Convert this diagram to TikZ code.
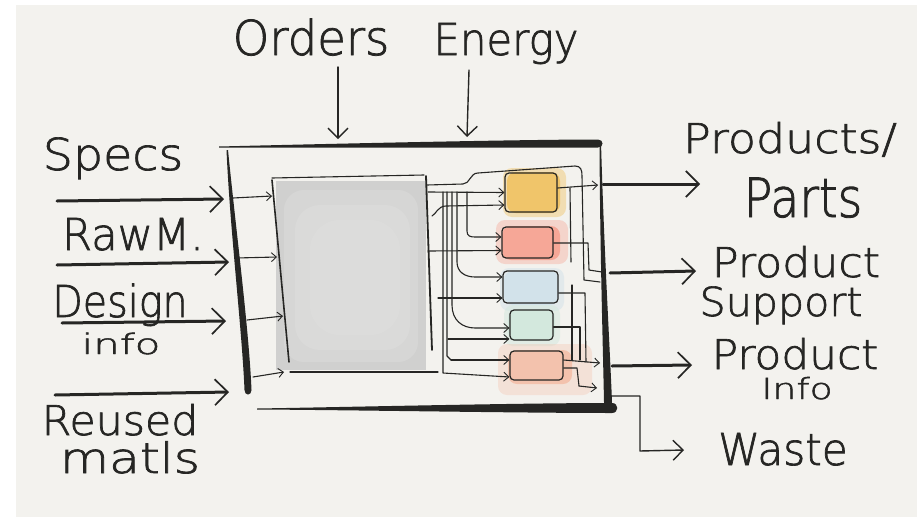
\documentclass[tikz,border=0pt]{standalone}
\usepackage{fontspec}
\newfontfamily\handfont[FakeBold=1.6]{DejaVu Sans ExtraLight}
\usetikzlibrary{arrows.meta}

\definecolor{paper}{HTML}{F3F2EE}
\definecolor{inkc}{HTML}{262624}
\definecolor{coreg}{HTML}{D0D0CF}
\definecolor{coregl}{HTML}{E2E2E1}
\definecolor{cyel}{HTML}{F0C56A}
\definecolor{cred}{HTML}{F6A797}
\definecolor{cblu}{HTML}{D2E2EA}
\definecolor{cgrn}{HTML}{D3E8DD}
\definecolor{cpch}{HTML}{F3C2AD}

% handwritten-style label: size, horizontal stretch, text
\newcommand\handtxt[3]{\scalebox{#2}[1]{\fontsize{#1}{#1}\selectfont\handfont #3}}

\tikzset{
  bigtip/.tip={Straight Barb[length=13pt,width=26pt,line width=1.7pt]},
  midtip/.tip={Straight Barb[length=10pt,width=20pt,line width=1.4pt]},
  smalltip/.tip={Straight Barb[length=5pt,width=9pt,line width=0.9pt]},
  lbl/.style={inner sep=0pt, text=inkc, anchor=base},
  heavy/.style={draw=inkc, line width=3pt, line cap=round, -{bigtip}},
  feed/.style={draw=inkc, line width=1.4pt, line cap=round, line join=round, -{midtip}},
  wire/.style={draw=inkc, line width=1.1pt, line cap=round, line join=round},
  wirearr/.style={wire, -{smalltip}},
  cbox/.style={draw=inkc, line width=1.2pt, rounded corners=4pt, inner sep=0pt},
  blob/.style={rounded corners=9pt},
}

\begin{document}
\begin{tikzpicture}[x=1pt,y=-1pt]
% page and paper
\fill[white] (0,0) rectangle (919,517);
\fill[paper] (16,5) rectangle (917,517);
\useasboundingbox (0,0) rectangle (919,517);

% ---------- labels ----------
\node[lbl] (orders)  at (311,55)  {\handtxt{48}{0.97}{Orders}};
\node[lbl] (energy)  at (506,55)  {\handtxt{44}{0.95}{Energy}};
\node[lbl] (specs)   at (113,170) {\handtxt{44}{1.08}{Specs}};
\node[lbl] (rawm)    at (133,250) {\handtxt{44}{0.98}{RawM.}};
\node[lbl] (design)  at (120,317) {\handtxt{44}{0.9}{Design}};
\node[lbl] (info)    at (121,354) {\handtxt{28}{1.5}{info}};
\node[lbl] (reused)  at (120,435) {\handtxt{41}{1.04}{Reused}};
\node[lbl] (matls)   at (130,473) {\handtxt{42}{1.2}{matls}};
\node[lbl] (prods)   at (790,153) {\handtxt{41}{1.12}{Products/}};
\node[lbl] (parts)   at (803,217) {\handtxt{54}{0.88}{Parts}};
\node[lbl] (prodA)   at (796,277) {\handtxt{41}{1.08}{Product}};
\node[lbl] (support) at (781,316) {\handtxt{40}{1.03}{Support}};
\node[lbl] (prodB)   at (795,369) {\handtxt{41}{1.07}{Product}};
\node[lbl] (infoB)   at (797,399) {\handtxt{29}{1.3}{Info}};
\node[lbl] (waste)   at (783,465) {\handtxt{44}{0.96}{Waste}};

% ---------- frame of the process (brush strokes) ----------
\fill[inkc] (219,146.5) .. controls (320,144) and (520,139.5) .. (598,139.5)
  .. controls (604,139.5) and (604,147.5) .. (598,147.5)
  .. controls (520,147.5) and (320,148) .. (219,147.5) -- cycle;
\fill[inkc] (257,408.5) .. controls (350,407) and (520,403) .. (612,403)
  .. controls (619,403) and (619,413) .. (612,413)
  .. controls (520,413) and (350,410) .. (257,409.5) -- cycle;
\fill[inkc] (226.5,150) .. controls (230,230) and (242,330) .. (244.5,390)
  .. controls (244.5,396) and (251.5,396) .. (251.5,390)
  .. controls (249,330) and (236,230) .. (228,150) -- cycle;
\fill[inkc] (599.5,142) .. controls (600,250) and (603,350) .. (604,402)
  .. controls (604,409) and (612,409) .. (612,402)
  .. controls (610,350) and (604,250) .. (601,142) -- cycle;

% ---------- core activity (grey wash) ----------
\fill[coreg] (276,181) rectangle (426,370);
\fill[coregl, opacity=.35, rounded corners=20pt] (284,190) rectangle (418,362);
\fill[coregl, opacity=.35, rounded corners=25pt] (295,205) rectangle (410,350);
\fill[coregl, opacity=.35, rounded corners=30pt] (310,220) rectangle (400,335);
\node[inner sep=0pt, minimum width=150pt, minimum height=190pt] (core) at (351,275) {};
\draw[wire] (272,178) -- (424,175);
\draw[wire, line width=1.6pt] (272,180) -- (289,362);
\draw[wire] (290,372) -- (438,372);
\draw[wire, line width=1.8pt] (426,176) -- (432,350);

% ---------- coloured sub-activities ----------
\fill[cyel, opacity=.45, blob] (503,168) rectangle (566,217);
\fill[cyel, blob] (507,172) rectangle (560,213);
\fill[cred, opacity=.4, blob] (496,220) rectangle (568,264);
\fill[cred, blob] (502,226) rectangle (560,260);
\fill[cblu, opacity=.5, blob] (500,268) rectangle (564,311);
\fill[cblu, blob] (504,271) rectangle (559,305);
\fill[cgrn, opacity=.5, blob] (504,305) rectangle (560,346);
\fill[cgrn, blob] (508,309) rectangle (555,341);
\fill[cpch, opacity=.35, blob] (498,344) rectangle (592,395);
\fill[cpch, blob] (508,350) rectangle (572,384);

\node[cbox, minimum width=52pt, minimum height=39pt] (ybox) at (531,192.5) {};
\node[cbox, minimum width=51pt, minimum height=31pt] (rbox) at (527.5,242.5) {};
\node[cbox, minimum width=55pt, minimum height=32pt] (bbox) at (530.5,287) {};
\node[cbox, minimum width=43pt, minimum height=30pt] (gbox) at (531.5,325) {};
\node[cbox, minimum width=53pt, minimum height=29pt] (pbox) at (536.5,365.5) {};

% ---------- inputs ----------
\coordinate (inS) at (57,201);   \coordinate (atS) at (224,199);
\coordinate (inR) at (57,265);   \coordinate (atR) at (229,262);
\coordinate (inD) at (62,323);   \coordinate (atD) at (226,321);
\coordinate (inU) at (55,395);   \coordinate (atU) at (229,392);
\draw[heavy] (inS) -- (atS);
\draw[heavy] (inR) -- (atR);
\draw[heavy] (inD) -- (atD);
\draw[heavy] (inU) -- (atU);

% controls from above
\coordinate (ordT) at (338,67);  \coordinate (ordB) at (338,139);
\coordinate (engT) at (469,70);  \coordinate (engB) at (467,137);
\draw[feed] (ordT) -- (ordB);
\draw[feed] (engT) -- (engB);

% inputs passed on to the core
\draw[wirearr] (233,198) -- (272,196);
\draw[wirearr] (236,258) -- (277,257);
\draw[wirearr] (247,320) -- (283,316);
\draw[wirearr] (253,377) -- (284,372);

% ---------- core to sub-activities ----------
\draw[wire] (427,185) -- (463,184) .. controls (470,184) and (470,173) .. (478,173)
  -- (575,166) .. controls (581,166) and (582,170) .. (582,176) -- (584,280) -- (600,282);
\draw[wirearr] (428,192) -- ([yshift=0pt]ybox.west);
\draw[wirearr] (432,216) .. controls (436,214) and (438,206) .. (446,206) -- ([yshift=-12.5pt]ybox.west);
\draw[wirearr] (467,192) -- (467,231) .. controls (467,236) and (470,237) .. (475,237) -- ([yshift=5.5pt]rbox.west);
\draw[wirearr] (428,251) -- ([yshift=-8pt]rbox.west);
\draw[wirearr] (457,192) -- (457,262) .. controls (457,272) and (465,277) .. (475,277) -- ([yshift=10pt]bbox.west);
\draw[wirearr] (438,298) -- ([yshift=-11pt]bbox.west);
\draw[wirearr] (452,192) -- (452,305) .. controls (452,320) and (462,328) .. (475,328) -- ([yshift=-3pt]gbox.west);
\draw[wirearr] (448,339) -- ([yshift=-14pt]gbox.west);
\draw[wire] (447,192) -- (447,356) -- (451,360);
\draw[wirearr] (451,360) -- ([yshift=5.5pt]pbox.west);
\draw[wirearr] (443,192) -- (443,373) -- ([yshift=-11.5pt]pbox.west);

% ---------- sub-activities to outputs ----------
\draw[wirearr] ([yshift=4.5pt]ybox.east) -- (598,185);
\draw[wire] (570,188) -- (571,262);
\draw[wire] ([yshift=-0.5pt]rbox.east) -- (588,243) -- (589,270) -- (602,272);
\draw[wire] ([yshift=-6pt]bbox.east) -- (585,293) -- (586,362);
\draw[wire] ([yshift=-2pt]gbox.east) -- (580,327) -- (580,360);
\draw[wire] (572,285) -- (572,360);
\draw[wirearr] ([yshift=5.5pt]pbox.east) -- (600,363);
\draw[wire] ([yshift=-2.5pt]pbox.east) -- (577,368) -- (579,386);
\draw[wirearr] (579,386) -- (597,388);

% ---------- outputs ----------
\coordinate (outP) at (603,184);  \coordinate (toP) at (700,184);
\coordinate (outS) at (610,273);  \coordinate (toS) at (696,271);
\coordinate (outI) at (612,366);  \coordinate (toI) at (692,365);
\coordinate (outW) at (611,396);  \coordinate (toW) at (684,450);
\draw[heavy] (outP) -- (toP);
\draw[heavy] (outS) -- (toS);
\draw[heavy] (outI) -- (toI);
\draw[feed] (outW) -- (640,396) -- (640,451) -- (toW);
\end{tikzpicture}
\end{document}
